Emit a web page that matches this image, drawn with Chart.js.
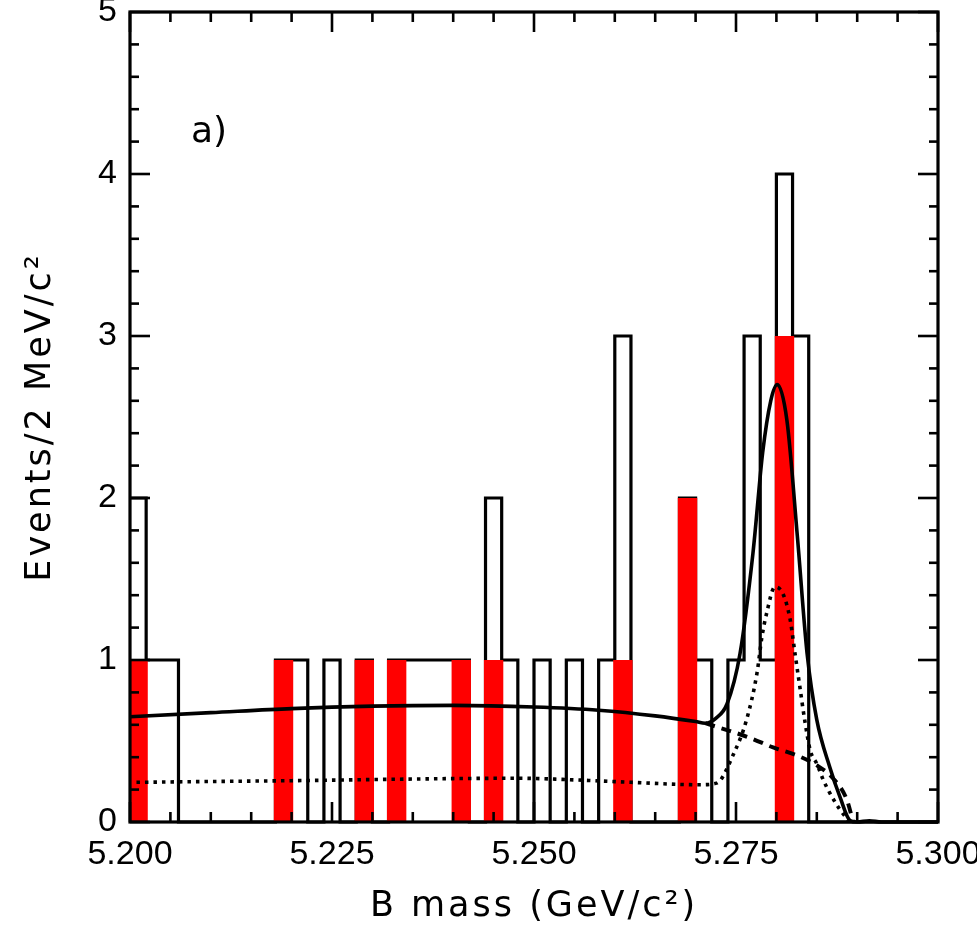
<!DOCTYPE html>
<html><head><meta charset="utf-8">
<script src="https://cdn.jsdelivr.net/npm/chart.js@4.4.1/dist/chart.umd.min.js"></script>
<style>html,body{margin:0;padding:0;background:#fff}canvas{display:block}</style>
</head><body>
<canvas id="c" width="977" height="937"></canvas>
<script>
// ---- data ----
const binWidth = 0.002; // GeV, histogram bin width (2 MeV)
const binCenters = [5.201,5.203,5.205,5.207,5.209,5.211,5.213,5.215,5.217,5.219,
                    5.221,5.223,5.225,5.227,5.229,5.231,5.233,5.235,5.237,5.239,
                    5.241,5.243,5.245,5.247,5.249,5.251,5.253,5.255,5.257,5.259,
                    5.261,5.263,5.265,5.267,5.269,5.271,5.273,5.275,5.277,5.279,
                    5.281,5.283,5.285,5.287,5.289,5.291,5.293,5.295,5.297,5.299];
const allEvents = [2,1,1,0,0,0,0,0,0,1,
                   1,0,1,0,1,0,1,1,1,1,
                   1,0,2,1,0,1,0,1,0,1,
                   3,0,0,0,2,1,0,1,3,1,
                   4,3,0,0,0,0,0,0,0,0];
const redEvents = [1,0,0,0,0,0,0,0,0,1,
                   0,0,0,0,1,0,1,0,0,0,
                   1,0,1,0,0,0,0,0,0,0,
                   1,0,0,0,2,0,0,0,0,0,
                   3,0,0,0,0,0,0,0,0,0];
const xTickValues = [5.200, 5.225, 5.250, 5.275, 5.300];
const yTickValues = [0, 1, 2, 3, 4, 5];

const totalFitMass  = [5.2000,5.2100,5.2200,5.2300,5.2400,5.2500,5.2580,5.2650,5.2700,5.2712,5.2725,5.2739,5.2755,5.2771,5.2783,5.2793,5.2801,5.2813,5.2826,5.2838,5.2850,5.2866,5.2879,5.2891,5.2900,5.2915,5.2930,5.3000];
const totalFitValue = [0.65,  0.675, 0.70,  0.715, 0.72,  0.71,  0.69,  0.655, 0.62,  0.61,  0.64,  0.73,  1.04,  1.66,  2.28,  2.60,  2.70,  2.48,  1.76,  1.04,  0.63,  0.34,  0.15,  0.01,  0.0,   0.008, 0.0,   0.0];

const bkgFitMass  = [5.2712,5.2767,5.2796,5.2826,5.2850,5.2870,5.2887,5.2895];
const bkgFitValue = [0.61,  0.52,  0.46,  0.41,  0.35,  0.27,  0.14,  0.0];

const sigFitMass  = [5.2008,5.2100,5.2200,5.2300,5.2400,5.2480,5.2550,5.2620,5.2705,5.2726,5.2747,5.2763,5.2776,5.2782,5.2788,5.2798,5.2808,5.2817,5.2823,5.2829,5.2835,5.2842,5.2850,5.2858,5.2866,5.2879,5.2889];
const sigFitValue = [0.245, 0.25,  0.255, 0.262, 0.268, 0.27,  0.26,  0.245, 0.23,  0.24,  0.42,  0.63,  0.92,  1.14,  1.29,  1.45,  1.41,  1.25,  1.04,  0.835, 0.63,  0.44,  0.36,  0.26,  0.18,  0.074, 0.01];

// ---- derived datasets ----
const outlinePoints = binCenters.map((c, i) => ({x: c - binWidth / 2, y: allEvents[i]}));
outlinePoints.push({x: binCenters[binCenters.length - 1] + binWidth / 2, y: 0});
const redPoints = binCenters.map((c, i) => ({x: c, y: redEvents[i]}));
const toXY = (xs, ys) => xs.map((v, i) => ({x: v, y: ys[i]}));

const frameTicks = {
  id: 'frameTicks',
  beforeDraw(chart) {
    for (const id of ['x', 'y']) {
      const s = chart.scales[id];
      if (s && !s._lsPatched) {
        const orig = s.drawTitle;
        s.drawTitle = function () {
          const ctx = this.ctx; const prev = ctx.letterSpacing;
          ctx.letterSpacing = '3px';
          orig.apply(this, arguments);
          ctx.letterSpacing = prev || '0px';
        };
        s._lsPatched = true;
      }
    }
  },
  afterDatasetsDraw(chart) {
    const {ctx, chartArea: {left, right, top, bottom}, scales: {x, y}} = chart;
    ctx.save();
    ctx.strokeStyle = '#000';
    ctx.lineCap = 'butt';
    ctx.lineWidth = 2.6;
    const seg = (a, b, c, d) => { ctx.beginPath(); ctx.moveTo(a, b); ctx.lineTo(c, d); ctx.stroke(); };
    const xMinor = (xTickValues[1] - xTickValues[0]) / 5;
    const nx = Math.round((xTickValues[xTickValues.length - 1] - xTickValues[0]) / xMinor);
    for (let k = 0; k <= nx; k++) {
      const px = x.getPixelForValue(xTickValues[0] + k * xMinor);
      const L = (k % 5 === 0) ? 20 : 10;
      seg(px, bottom, px, bottom - L);
      seg(px, top, px, top + L);
    }
    const yMinor = (yTickValues[1] - yTickValues[0]) / 5;
    const ny = Math.round((yTickValues[yTickValues.length - 1] - yTickValues[0]) / yMinor);
    for (let k = 0; k <= ny; k++) {
      const py = y.getPixelForValue(yTickValues[0] + k * yMinor);
      const L = (k % 5 === 0) ? 20 : 9;
      seg(left, py, left + L, py);
      seg(right, py, right - L, py);
    }
    ctx.lineWidth = 3.2;
    ctx.strokeRect(left, top, right - left, bottom - top);
    // panel label
    ctx.fillStyle = '#000';
    ctx.font = '36px "DejaVu Sans"';
    ctx.textBaseline = 'alphabetic';
    ctx.textAlign = 'left';
    ctx.fillText('a)', left + 61, top + 130);
    ctx.restore();
  }
};

new Chart(document.getElementById('c'), {
  type: 'line',
  data: {
    datasets: [
      {type: 'line', label: 'total fit', data: toXY(totalFitMass, totalFitValue), borderColor: '#000', borderWidth: 3.6,
       pointRadius: 0, cubicInterpolationMode: 'monotone', fill: false, order: 0, clip: 2},
      {type: 'line', label: 'background', data: toXY(bkgFitMass, bkgFitValue), borderColor: '#000', borderWidth: 4,
       borderDash: [10, 7], pointRadius: 0, cubicInterpolationMode: 'monotone', fill: false, order: 0, clip: 2},
      {type: 'line', label: 'component', data: toXY(sigFitMass, sigFitValue), borderColor: '#000', borderWidth: 3.6,
       borderDash: [3.5, 5], pointRadius: 0, cubicInterpolationMode: 'monotone', fill: false, order: 0, clip: 2},
      {type: 'bar', label: 'selected', data: redPoints, backgroundColor: '#ff0000', borderWidth: 0,
       barPercentage: 1.2, categoryPercentage: 1.0, order: 1, clip: 0},
      {type: 'line', label: 'all', data: outlinePoints, stepped: 'before', borderColor: '#000', borderWidth: 3.2,
       pointRadius: 0, fill: false, order: 2, clip: 2}
    ]
  },
  options: {
    responsive: false,
    animation: false,
    devicePixelRatio: 1,
    layout: {padding: {left: 0, top: 12, right: 39, bottom: 0}},
    plugins: {legend: {display: false}, tooltip: {enabled: false}},
    scales: {
      x: {
        type: 'linear', min: xTickValues[0], max: xTickValues[xTickValues.length - 1], offset: false,
        grid: {display: false, drawTicks: false}, border: {display: false},
        afterBuildTicks: s => { s.ticks = xTickValues.map(v => ({value: v})); },
        afterFit: s => { s.height = 115; s.paddingLeft = 0; s.paddingRight = 0; },
        ticks: {autoSkip: false, maxRotation: 0, padding: 16, color: '#000',
                font: {family: '"Liberation Sans"', size: 34, lineHeight: 1},
                callback: v => Number(v).toFixed(3)},
        title: {display: true, text: 'B mass (GeV/c²)', color: '#000',
                font: {family: '"DejaVu Sans"', size: 35, lineHeight: 1.2}, padding: {top: 0, bottom: 9}}
      },
      y: {
        type: 'linear', min: yTickValues[0], max: yTickValues[yTickValues.length - 1],
        grid: {display: false, drawTicks: false}, border: {display: false},
        afterBuildTicks: s => { s.ticks = yTickValues.map(v => ({value: v})); },
        afterFit: s => { s.width = 130; s.paddingTop = 0; s.paddingBottom = 0; },
        ticks: {padding: 13, color: '#000', font: {family: '"Liberation Sans"', size: 34, lineHeight: 1}},
        title: {display: true, text: 'Events/2 MeV/c²', color: '#000',
                font: {family: '"DejaVu Sans"', size: 35, lineHeight: 1.2}, padding: {top: 20, bottom: 0}}
      }
    }
  },
  plugins: [frameTicks]
});
</script>
</body></html>
